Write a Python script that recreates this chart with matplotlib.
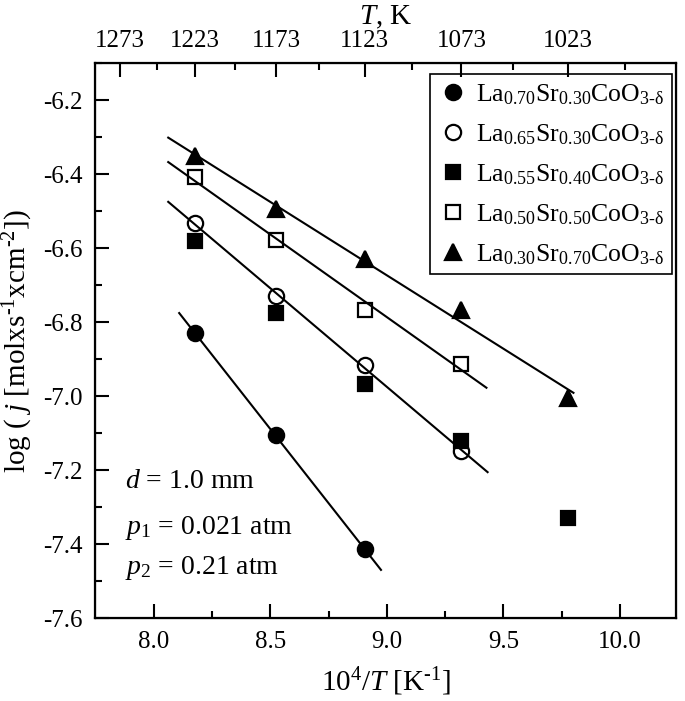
import numpy as np
import matplotlib
matplotlib.use("Agg")
import matplotlib.pyplot as plt

plt.rcParams['font.family'] = 'Liberation Serif'
plt.rcParams['mathtext.fontset'] = 'custom'
plt.rcParams['mathtext.rm'] = 'Liberation Serif'
plt.rcParams['mathtext.it'] = 'Liberation Serif:italic'

# temperatures (K) and 10^4/T
T = np.array([1223, 1173, 1123, 1073, 1023])
x = 1e4 / T

# log j values
y_la70 = [-6.83, -7.106, -7.414]
y_la65 = [-6.532, -6.730, -6.917, -7.147]
y_la55 = [-6.582, -6.775, -6.966, -7.122, -7.33]
y_la50 = [-6.408, -6.577, -6.766, -6.914]
y_la30 = [-6.352, -6.494, -6.629, -6.768, -7.005]

labels = [r'La$_{0.70}$Sr$_{0.30}$CoO$_{\mathrm{3‐δ}}$',
          r'La$_{0.65}$Sr$_{0.30}$CoO$_{\mathrm{3‐δ}}$',
          r'La$_{0.55}$Sr$_{0.40}$CoO$_{\mathrm{3‐δ}}$',
          r'La$_{0.50}$Sr$_{0.50}$CoO$_{\mathrm{3‐δ}}$',
          r'La$_{0.30}$Sr$_{0.70}$CoO$_{\mathrm{3‐δ}}$']

# x range of the fitted lines
fit_range = {'la70': (8.11, 8.975), 'la65': (8.063, 9.432),
             'la50': (8.063, 9.427), 'la30': (8.063, 9.80)}

T_major = [1273, 1223, 1173, 1123, 1073, 1023]
T_minor = [1248, 1198, 1148, 1098, 1048, 998]

fig = plt.figure(figsize=(6.85, 7.01), dpi=100)
ax = fig.add_axes([0.139, 0.118, 0.848, 0.792])

series = [
    ('la70', y_la70, 'o', 'k', 11),
    ('la65', y_la65, 'o', 'none', 11),
    ('la55', y_la55, 's', 'k', 9.5),
    ('la50', y_la50, 's', 'none', 9.5),
    ('la30', y_la30, '^', 'k', 12),
]

for (key, yv, m, fc, ms), lab in zip(series, labels):
    xv = x[:len(yv)]
    ax.plot(xv, yv, linestyle='none', marker=m, markersize=ms,
            markerfacecolor=fc, markeredgecolor='k', markeredgewidth=1.6,
            label=lab, zorder=3)
    if key in fit_range:
        k, b = np.polyfit(xv, yv, 1)
        xl = np.array(fit_range[key])
        ax.plot(xl, k * xl + b, color='k', linewidth=1.5, zorder=2)

ax.set_xlim(7.75, 10.24)
ax.set_ylim(-7.6, -6.1)
ax.set_xticks([8.0, 8.5, 9.0, 9.5, 10.0])
ax.set_xticks([8.25, 8.75, 9.25, 9.75], minor=True)
ax.set_yticks(np.arange(-7.6, -6.15, 0.2))
ax.set_yticks(np.arange(-7.5, -6.05, 0.2), minor=True)
ax.xaxis.set_major_formatter(plt.FormatStrFormatter('%.1f'))
ax.yaxis.set_major_formatter(plt.FormatStrFormatter('%.1f'))
ax.tick_params(which='both', direction='in', labelsize=18, width=1.5)
ax.tick_params(which='major', length=10, pad=9)
ax.tick_params(which='minor', length=5)
for s in ax.spines.values():
    s.set_linewidth(1.6)

ax.set_xlabel(r'10$^4$/$T$ [K$^{\mathrm{‐1}}$]', fontsize=21, labelpad=9)
ax.set_ylabel(r'log ( $j$ [molxs$^{\mathrm{‐1}}$xcm$^{\mathrm{‐2}}$])',
              fontsize=21, labelpad=6)

ax2 = ax.twiny()
ax2.set_xlim(ax.get_xlim())
ax2.set_xticks(1e4 / np.array(T_major))
ax2.set_xticklabels([str(t) for t in T_major])
ax2.set_xticks(1e4 / np.array(T_minor), minor=True)
ax2.tick_params(which='both', direction='in', labelsize=18, width=1.5)
ax2.tick_params(which='major', length=10, pad=8)
ax2.tick_params(which='minor', length=5)
ax2.set_xlabel(r'$T$, K', fontsize=21, labelpad=4)

ax.text(0.052, 0.246, r'$d$ = 1.0 mm', transform=ax.transAxes,
        fontsize=20, va='center')
ax.text(0.052, 0.162, r'$p_1$ = 0.021 atm', transform=ax.transAxes,
        fontsize=20, va='center')
ax.text(0.052, 0.090, r'$p_2$ = 0.21 atm', transform=ax.transAxes,
        fontsize=20, va='center')

leg = ax.legend(loc='upper right', bbox_to_anchor=(0.993, 0.98),
                borderaxespad=0, fontsize=18.5, fancybox=False,
                edgecolor='k', framealpha=1, handletextpad=0.3,
                handlelength=1.2, labelspacing=0.6, borderpad=0.3)
leg.get_frame().set_linewidth(1.2)

fig.savefig('out.png', dpi=100)
